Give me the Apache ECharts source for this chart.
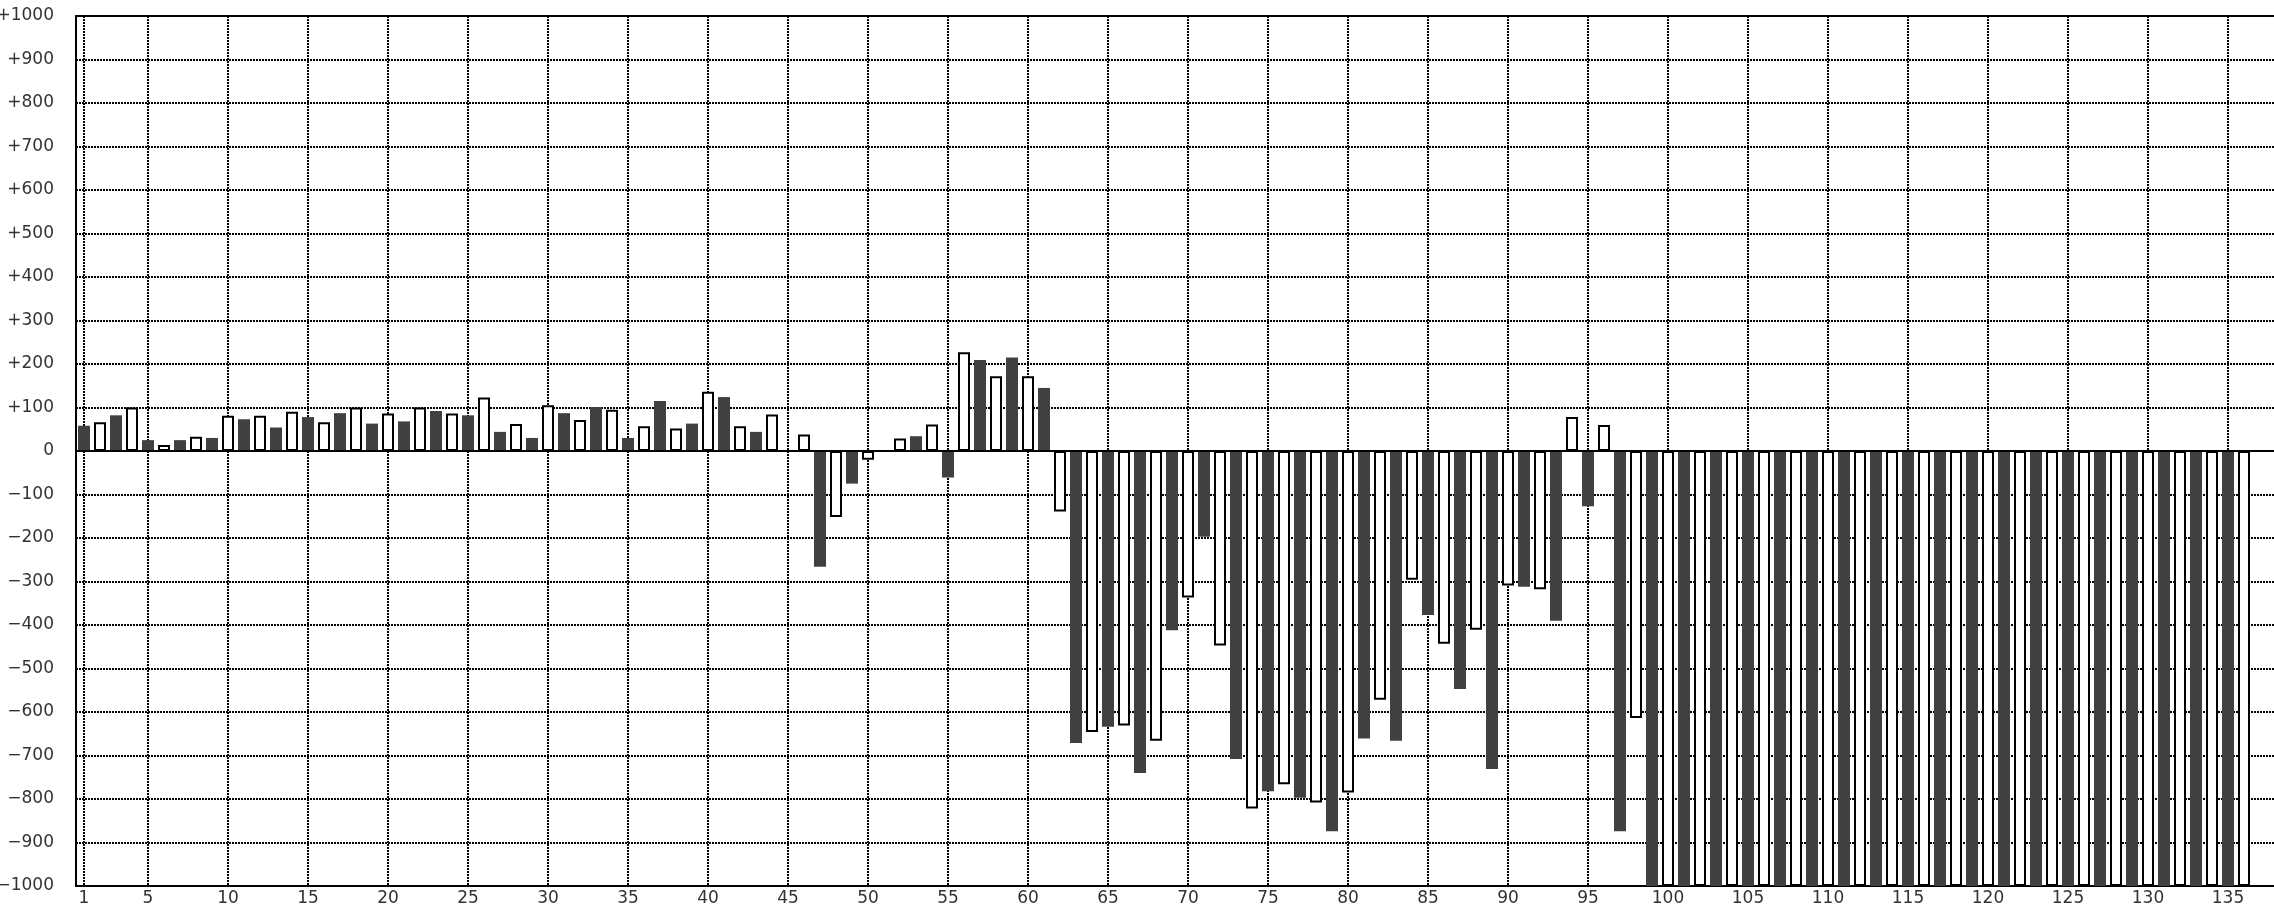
<!DOCTYPE html>
<html>
<head>
<meta charset="utf-8">
<script src="https://cdn.jsdelivr.net/npm/echarts@6/dist/echarts.min.js"></script>
<style>
html,body{margin:0;padding:0;background:#fff;}
#chart{width:2274px;height:906px;}
</style>
</head>
<body>
<div id="chart"></div>
<script>
// ---- data ----
const categories = [
  '1','2','3','4','5','6','7','8','9','10','11','12','13','14','15','16','17','18','19','20',
  '21','22','23','24','25','26','27','28','29','30','31','32','33','34','35','36','37','38','39','40',
  '41','42','43','44','45','46','47','48','49','50','51','52','53','54','55','56','57','58','59','60',
  '61','62','63','64','65','66','67','68','69','70','71','72','73','74','75','76','77','78','79','80',
  '81','82','83','84','85','86','87','88','89','90','91','92','93','94','95','96','97','98','99','100',
  '101','102','103','104','105','106','107','108','109','110','111','112','113','114','115','116','117','118','119','120',
  '121','122','123','124','125','126','127','128','129','130','131','132','133','134','135','136','137','138'
];

const values = [
  58, 66, 82, 100, 25, 14, 25, 33, 30, 81,
  73, 81, 54, 90, 78, 66, 87, 100, 63, 86,
  68, 100, 92, 86, 82, 123, 44, 62, 30, 105,
  87, 71, 101, 95, 30, 57, 115, 52, 63, 136,
  124, 57, 44, 84, null, 38, -266, -152, -75, -20,
  null, 29, 34, 61, -61, 227, 209, 172, 215, 172,
  145, -139, -671, -646, -634, -631, -740, -666, -412, -337,
  -197, -447, -708, -822, -782, -766, -797, -808, -874, -785,
  -661, -572, -666, -296, -377, -443, -547, -411, -731, -309,
  -312, -318, -390, 78, -127, 60, -874, -614, -1000, -1000,
  -1000, -1000, -1000, -1000, -1000, -1000, -1000, -1000, -1000, -1000,
  -1000, -1000, -1000, -1000, -1000, -1000, -1000, -1000, -1000, -1000,
  -1000, -1000, -1000, -1000, -1000, -1000, -1000, -1000, -1000, -1000,
  -1000, -1000, -1000, -1000, -1000, -1000
];

const xTickLabels = ['1','5','10','15','20','25','30','35','40','45','50','55','60','65','70',
  '75','80','85','90','95','100','105','110','115','120','125','130','135'];

const yTickValues = [-1000,-900,-800,-700,-600,-500,-400,-300,-200,-100,0,100,200,300,400,500,600,700,800,900,1000];
const yTickLabels = ['\u22121000','\u2212900','\u2212800','\u2212700','\u2212600','\u2212500','\u2212400','\u2212300','\u2212200','\u2212100',
  '0','+100','+200','+300','+400','+500','+600','+700','+800','+900','+1000'];

// ---- chart ----
const FONT = 'DejaVu Sans';
const gridDots = {color:'#000', width:2, type:[2,1]};
const showTick = (i, v) => xTickLabels.indexOf(String(v)) >= 0;

const barData = values.map((v, i) => {
  if (v === null) return '-';
  return {
    value: v,
    itemStyle: (i % 2 === 0)
      ? {color:'#404040', borderWidth:0}
      : {color:'#ffffff', borderColor:'#000000', borderWidth:2}
  };
});

const chart = echarts.init(document.getElementById('chart'), null, {renderer:'canvas'});
chart.setOption({
  animation:false,
  backgroundColor:'#ffffff',
  grid:{left:76, top:16, width:2208, height:870, containLabel:false, outerBoundsMode:'none'},
  xAxis:[{
    type:'category',
    data:categories,
    position:'bottom',
    boundaryGap:true,
    axisLine:{show:true, onZero:false, lineStyle:{color:'#000', width:2}},
    axisTick:{show:false},
    axisLabel:{interval:showTick, margin:4, color:'#333', fontFamily:FONT, fontSize:17, hideOverlap:false},
    splitLine:{show:true, interval:showTick, alignWithLabel:true, lineStyle:gridDots}
  },{
    type:'category',
    data:categories,
    position:'top',
    axisLine:{show:true, onZero:false, lineStyle:{color:'#000', width:2}},
    axisTick:{show:false},
    axisLabel:{show:false},
    splitLine:{show:false}
  }],
  yAxis:{
    type:'value',
    min:-1000, max:1000, interval:100,
    axisLine:{show:true, onZero:false, lineStyle:{color:'#000', width:2}},
    axisTick:{show:false},
    axisLabel:{
      margin:22, color:'#333', fontFamily:FONT, fontSize:17, hideOverlap:false,
      formatter:(v) => { const k = yTickValues.indexOf(v); return k >= 0 ? yTickLabels[k] : String(v); }
    },
    splitLine:{show:true, lineStyle:gridDots}
  },
  series:[{
    type:'bar',
    xAxisIndex:0,
    data:barData,
    barWidth:12,
    markLine:{
      silent:true,
      symbol:['none','none'],
      label:{show:false},
      lineStyle:{color:'#000', width:2, type:'solid'},
      data:[{yAxis:0}]
    }
  }]
});
</script>
</body>
</html>
